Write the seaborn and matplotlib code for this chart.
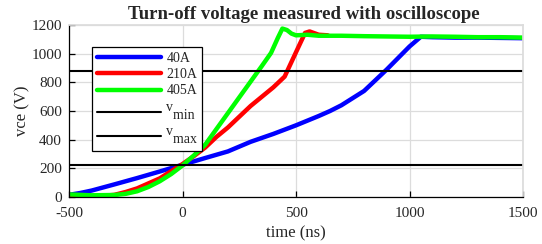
import matplotlib
matplotlib.use("Agg")
import matplotlib.pyplot as plt
import numpy as np
import pandas as pd
import seaborn as sns

# time (ns) / vce (V)
t_40a = [-500, -450, -400, -300, -200, -100, 0, 100, 200, 300, 400, 500, 600, 650, 700,
         800, 900, 1000, 1050, 1100, 1200, 1300, 1400, 1500]
v_40a = [15, 28, 45, 88, 132, 178, 225, 272, 318, 385, 440, 500, 565, 600, 640,
         740, 890, 1050, 1118, 1115, 1112, 1112, 1110, 1108]

t_210a = [-500, -400, -350, -300, -250, -200, -150, -100, -50, 0, 50, 100, 150, 200, 250,
          300, 350, 400, 450, 500, 540, 560, 600, 640]
v_210a = [5, 5, 8, 15, 35, 60, 95, 130, 180, 230, 285, 345, 420, 485, 560,
          635, 700, 765, 840, 1010, 1145, 1155, 1132, 1128]

t_405a = [-500, -400, -300, -250, -200, -150, -100, -50, 0, 50, 100, 150, 200, 250, 300,
          350, 390, 420, 440, 460, 480, 500, 550, 600, 700, 800, 900, 1000, 1100, 1200,
          1300, 1400, 1500]
v_405a = [18, 12, 14, 22, 40, 70, 110, 160, 220, 290, 365, 475, 585, 695, 805,
          915, 1005, 1110, 1175, 1165, 1140, 1128, 1132, 1125, 1125, 1122, 1120, 1118, 1120, 1118,
          1115, 1115, 1112]

series_names = ["40A", "210A", "405A"]
series_colors = ["#0000ff", "#ff0000", "#00ff00"]

v_min = 225
v_max = 880

df = pd.concat([
    pd.DataFrame({"time": t_40a, "vce": v_40a, "current": "40A"}),
    pd.DataFrame({"time": t_210a, "vce": v_210a, "current": "210A"}),
    pd.DataFrame({"time": t_405a, "vce": v_405a, "current": "405A"}),
], ignore_index=True)

sns.set_theme(style="whitegrid")
plt.rcParams["font.family"] = ["Liberation Serif", "DejaVu Serif"]
plt.rcParams["axes.unicode_minus"] = False

fig = plt.figure(figsize=(5.42, 2.44), dpi=100)
ax = fig.add_axes([69 / 542, 1 - 197 / 244, 454 / 542, 172 / 244])

sns.lineplot(data=df, x="time", y="vce", hue="current", hue_order=series_names,
             palette=series_colors, estimator=None, sort=False, linewidth=3.2, ax=ax)
# MATLAB-style subscripts: same size as the main letter, just dropped a bit
ax.axhline(v_max, color="black", linewidth=1.5, label="v\n  min")
ax.axhline(v_min, color="black", linewidth=1.5, label="v\n  max")

ax.set_xlim(-500, 1500)
ax.set_ylim(0, 1200)
ax.set_xticks([-500, 0, 500, 1000, 1500])
ax.set_yticks(range(0, 1201, 200))
ax.grid(True, color="#dcdcdc", linewidth=0.9)
ax.set_facecolor("white")
for side in ["left", "bottom"]:
    ax.spines[side].set_color("black")
    ax.spines[side].set_linewidth(0.9)
for side in ["top", "right"]:
    ax.spines[side].set_color("#dcdcdc")
ax.tick_params(axis="both", direction="in", length=4, width=0.9, color="black",
               labelsize=11, left=True, bottom=True, pad=5)
ax.tick_params(axis="x", pad=7)

ax.set_xlabel("time (ns)", fontsize=12, labelpad=4)
ax.set_ylabel("vce (V)", fontsize=12, labelpad=0.5)
ax.set_title("Turn-off voltage measured with oscilloscope", fontsize=13.5,
             fontweight="bold", pad=4, x=0.518)

handles, labels = ax.get_legend_handles_labels()
leg = ax.legend(handles, labels, loc="upper left", bbox_to_anchor=(0.051, 0.874),
                borderaxespad=0, fontsize=10, handlelength=4.6, frameon=True,
                fancybox=False, framealpha=1, edgecolor="black", borderpad=0.35,
                labelspacing=0.25, handletextpad=0.4)
leg.get_frame().set_linewidth(0.9)
for txt in leg.get_texts()[3:]:
    txt.set_linespacing(0.5)

fig.savefig("out.png", dpi=100)
plt.close(fig)
